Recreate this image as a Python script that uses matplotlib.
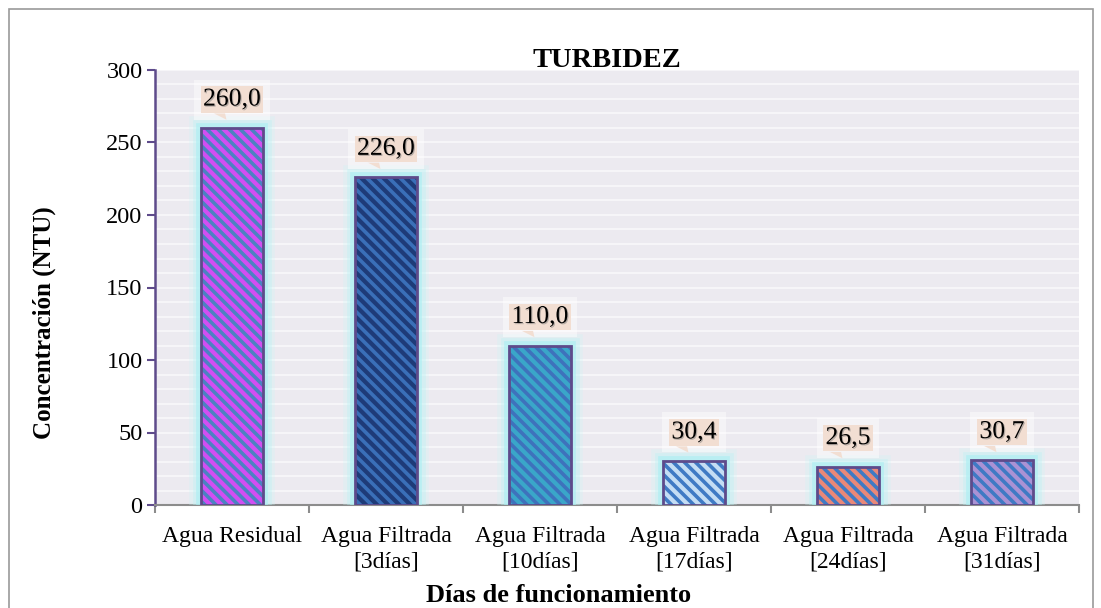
import matplotlib
matplotlib.use("Agg")
import matplotlib.pyplot as plt
import matplotlib.patheffects as pe
from matplotlib.patches import Rectangle, Polygon
from matplotlib.transforms import Affine2D, ScaledTranslation
import numpy as np

# ---- data ----
categories = ["Agua Residual", "Agua Filtrada\n[3días]", "Agua Filtrada\n[10días]",
              "Agua Filtrada\n[17días]", "Agua Filtrada\n[24días]", "Agua Filtrada\n[31días]"]
values = [260.0, 226.0, 110.0, 30.4, 26.5, 30.7]
value_labels = ["260,0", "226,0", "110,0", "30,4", "26,5", "30,7"]
face_colors = ["#D24EF2", "#1E3B78", "#3AA6C9", "#C4DDF4", "#EA8878", "#AA92D4"]
stripe_colors = ["#4B82C2", "#3A6FB8", "#3E72BC", "#3F7AC4", "#3F7AC4", "#3F7AC4"]
title = "TURBIDEZ"
xlabel = "Días de funcionamiento"
ylabel = "Concentración (NTU)"
yticks = [0, 50, 100, 150, 200, 250, 300]

plt.rcParams['font.family'] = ['Liberation Serif', 'DejaVu Serif']
plt.rcParams['hatch.linewidth'] = 2.6

fig = plt.figure(figsize=(11.01, 6.08), dpi=100)
ax = fig.add_axes([155/1101, 1 - 505/608, (1079 - 155)/1101, (505 - 70)/608])
ax.set_facecolor("#ECEAF0")

x = np.arange(len(values))
ax.set_xlim(-0.5, len(values) - 0.5)
ax.set_ylim(0, 300)

# grid every 10
ax.set_yticks(np.arange(0, 301, 10), minor=True)
ax.grid(True, which='minor', axis='y', color='#F6F5F8', linewidth=1.5)
ax.grid(True, which='major', axis='y', color='#F6F5F8', linewidth=1.5)
ax.set_axisbelow(True)

glow = [pe.Stroke(linewidth=17, foreground='#C8F6F6', alpha=0.25),
        pe.Stroke(linewidth=12, foreground='#B8F2F4', alpha=0.35),
        pe.Stroke(linewidth=7, foreground='#A8EEF2', alpha=0.6),
        pe.Normal()]

w = 0.4
for i, v in enumerate(values):
    b = ax.bar(x[i], v, width=w, color=face_colors[i], edgecolor=stripe_colors[i],
               linewidth=0, hatch='\\\\\\', zorder=3)
    b[0].set_path_effects(glow)
    ax.bar(x[i], v, width=w, fill=False, edgecolor='#5E4B8B', linewidth=2.0, zorder=4)

# value labels (callouts)
for i, v in enumerate(values):
    ax.annotate(value_labels[i], xy=(x[i], v), xytext=(0, 20.5), textcoords='offset points',
                ha='center', va='center', fontsize=18.5, color='black', zorder=6,
                bbox=dict(boxstyle='square,pad=0.08', facecolor='#F2DED2', edgecolor='none'),
                path_effects=[pe.withSimplePatchShadow(offset=(0.8, -0.8), shadow_rgbFace='#777777', alpha=0.5)])
    ax.annotate(value_labels[i], xy=(x[i], v), xytext=(0, 20.5), textcoords='offset points',
                ha='center', va='center', fontsize=18.5, color='none', zorder=5,
                bbox=dict(boxstyle='square,pad=0.35', facecolor='white', edgecolor='none', alpha=0.45))
    tr = Affine2D().scale(fig.dpi / 72.0) + ScaledTranslation(x[i], v, ax.transData)
    ax.add_patch(Polygon([(-13, 10.5), (-5, 10.5), (-4, 6)], closed=True,
                         facecolor='#F2DED2', edgecolor='none', transform=tr, zorder=6, clip_on=False))

# axes styling
for s in ['top', 'right']:
    ax.spines[s].set_visible(False)
ax.spines['left'].set_color('#5E4B8B')
ax.spines['left'].set_linewidth(1.8)
ax.spines['bottom'].set_color('#8C8C8C')
ax.spines['bottom'].set_linewidth(1.5)

ax.set_yticks(yticks)
ax.set_yticklabels([str(t) for t in yticks])
ax.tick_params(axis='y', which='major', direction='out', length=6, width=1.5, color='#5E4B8B',
               labelsize=17.5, pad=3)
ax.tick_params(axis='y', which='minor', length=0)

ax.set_xticks(np.arange(-0.5, len(values), 1.0))
ax.set_xticklabels([])
ax.set_xticks(x, minor=True)
ax.set_xticklabels(categories, minor=True, fontsize=17, linespacing=1.3)
ax.tick_params(axis='x', which='major', direction='out', length=6, width=1.5, color='#8C8C8C')
ax.tick_params(axis='x', which='minor', length=0, pad=15)

fig.text(0.551, 0.9, title, ha='center', va='center', fontsize=20.5, fontweight='bold')
fig.text(0.507, 0.021, xlabel, ha='center', va='center', fontsize=19, fontweight='bold')
fig.text(0.040, 0.47, ylabel, ha='center', va='center', rotation=90, fontsize=18, fontweight='bold')

# figure border
fig.add_artist(Rectangle((9/1101, -0.05), (1093 - 9)/1101, 1.05 - 9/608, transform=fig.transFigure,
                         fill=False, edgecolor='#9A9A9A', linewidth=1.2))

fig.savefig("out.png", dpi=100)
